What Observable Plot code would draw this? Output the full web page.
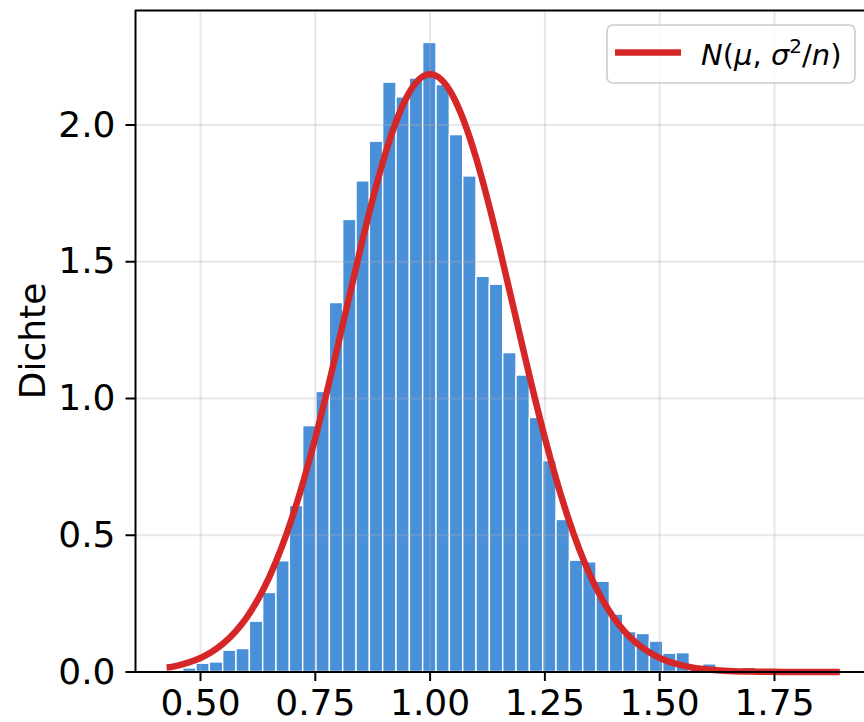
<!DOCTYPE html>
<html><head><meta charset="utf-8">
<script src="https://cdn.jsdelivr.net/npm/d3@7"></script>
<script src="https://cdn.jsdelivr.net/npm/@observablehq/plot@0.6"></script>
<style>body{margin:0;background:#fff} svg{display:block}</style>
</head><body><div id="chart"></div>
<script>
// Histogram bin edges (51) and density per bin (50)
const binEdges = [0.4332, 0.4623, 0.4913, 0.5203, 0.5494, 0.5784, 0.6075, 0.6365, 0.6655, 0.6946,
  0.7236, 0.7526, 0.7817, 0.8107, 0.8398, 0.8688, 0.8978, 0.9269, 0.9559, 0.9849,
  1.0140, 1.0430, 1.0721, 1.1011, 1.1301, 1.1592, 1.1882, 1.2172, 1.2463, 1.2753,
  1.3044, 1.3334, 1.3624, 1.3915, 1.4205, 1.4495, 1.4786, 1.5076, 1.5367, 1.5657,
  1.5947, 1.6238, 1.6528, 1.6818, 1.7109, 1.7399, 1.7690, 1.7980, 1.8270, 1.8561, 1.8851];
const density = [0.003, 0.013, 0.030, 0.035, 0.078, 0.084, 0.184, 0.289, 0.405, 0.607,
  0.899, 1.024, 1.349, 1.653, 1.794, 1.939, 2.155, 2.101, 2.170, 2.300,
  2.146, 1.963, 1.812, 1.445, 1.416, 1.166, 1.084, 0.929, 0.771, 0.556,
  0.407, 0.401, 0.330, 0.210, 0.146, 0.139, 0.111, 0.067, 0.069, 0.010,
  0.028, 0.003, 0.003, 0.015, 0.003, 0, 0, 0, 0, 0.003];

// Normal density curve N(mu, sigma^2/n)
const curveX = [0.4332, 0.45, 0.50, 0.55, 0.60, 0.65, 0.70, 0.75, 0.80, 0.85, 0.90, 0.95, 1.00,
  1.05, 1.10, 1.15, 1.20, 1.25, 1.30, 1.35, 1.40, 1.45, 1.50, 1.55, 1.60, 1.65, 1.70, 1.75, 1.80, 1.85, 1.8851];
const curveY = [0.0177, 0.0234, 0.0514, 0.1048, 0.1982, 0.3479, 0.5665, 0.8557, 1.1992, 1.5593, 1.8807, 2.1047, 2.1851,
  2.1047, 1.8807, 1.5593, 1.1992, 0.8557, 0.5665, 0.3479, 0.1982, 0.1048, 0.0514, 0.0234, 0.0099, 0.0039, 0.0014, 0.0005, 0.0001, 0.0000, 0.0000];

const xTicks = [0.50, 0.75, 1.00, 1.25, 1.50, 1.75];
const yTicks = [0.0, 0.5, 1.0, 1.5, 2.0];
const yLabel = "Dichte";
const legendLabel = "N(μ, σ²/n)";

const bins = density.map((d, i) => ({x1: binEdges[i], x2: binEdges[i + 1], y: d}));
const curve = curveX.map((x, i) => ({x, y: curveY[i]}));

const xDomain = [0.35845, 1.94599];
const yDomain = [0, 2.4186];

const svg = Plot.plot({
  width: 864, height: 722,
  marginLeft: 135, marginRight: 0, marginTop: 10, marginBottom: 50.5,
  style: {fontFamily: "DejaVu Sans", fontSize: "36px", background: "white", overflow: "visible"},
  x: {domain: xDomain},
  y: {domain: yDomain},
  marks: [
    Plot.rectY(bins, {x1: "x1", x2: "x2", y: "y", fill: "#4a90d9", stroke: "white", strokeWidth: 1.4}),
    Plot.gridX({ticks: xTicks, stroke: "#b0b0b0", strokeOpacity: 0.3, strokeWidth: 2}),
    Plot.gridY({ticks: yTicks, stroke: "#b0b0b0", strokeOpacity: 0.3, strokeWidth: 2}),
    Plot.line(curve, {x: "x", y: "y", stroke: "#d62728", strokeWidth: 6.5, curve: "natural", strokeLinecap: "square"}),
    Plot.axisX({ticks: xTicks, tickSize: 9.5, tickPadding: 8, tickFormat: d3.format(".2f"), label: null, strokeWidth: 2}),
    Plot.axisY({ticks: yTicks, tickSize: 9.5, tickPadding: 10.5, tickFormat: d3.format(".1f"), label: null, strokeWidth: 2}),
    Plot.ruleX([xDomain[0]], {stroke: "black", strokeWidth: 2}),
    Plot.ruleY([yDomain[0]], {stroke: "black", strokeWidth: 2}),
    Plot.ruleY([yDomain[1]], {stroke: "black", strokeWidth: 2})
  ]
});

const s = d3.select(svg);
// y-axis label
s.append("text")
  .attr("transform", "translate(45,341) rotate(-90)")
  .attr("text-anchor", "middle")
  .attr("font-size", "36px")
  .attr("fill", "black")
  .text(yLabel);

// legend
const lg = s.append("g").attr("text-anchor", "start");
lg.append("rect")
  .attr("x", 607).attr("y", 25).attr("width", 248).attr("height", 58)
  .attr("rx", 6).attr("fill", "white").attr("fill-opacity", 0.8)
  .attr("stroke", "#cccccc").attr("stroke-width", 1.6);
lg.append("line")
  .attr("x1", 615).attr("x2", 681).attr("y1", 52.5).attr("y2", 52.5)
  .attr("stroke", "#d62728").attr("stroke-width", 6.3);
const t = lg.append("text").attr("x", 701).attr("y", 65).attr("font-size", "29px").attr("fill", "black")
  .attr("text-anchor", "start");
t.append("tspan").attr("font-style", "italic").text("N");
t.append("tspan").text("(");
t.append("tspan").attr("font-style", "italic").text("μ");
t.append("tspan").text(", ");
t.append("tspan").attr("font-style", "italic").text("σ");
t.append("tspan").attr("font-size", "20px").attr("dy", -12).text("2");
t.append("tspan").attr("dy", 12).text("/");
t.append("tspan").attr("font-style", "italic").text("n");
t.append("tspan").text(")");
t.append("title").text(legendLabel);

document.getElementById("chart").appendChild(svg);
</script>
</body></html>
